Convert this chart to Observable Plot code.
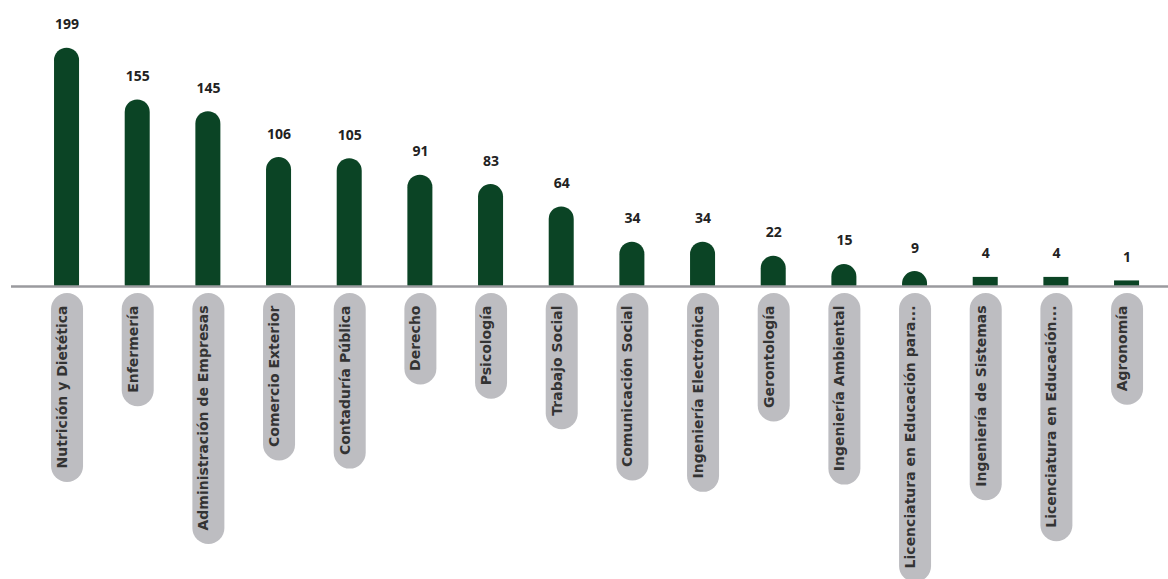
<!DOCTYPE html>
<html><head><meta charset="utf-8">
<script src="https://cdn.jsdelivr.net/npm/d3@7"></script>
<script src="https://cdn.jsdelivr.net/npm/@observablehq/plot@0.6"></script>
<style>html,body{margin:0;padding:0;background:#fff;} #chart svg{display:block}</style>
</head><body><div id="chart"></div>
<script>
const categories = ["Nutrición y Dietética","Enfermería","Administración de Empresas","Comercio Exterior","Contaduría Pública","Derecho","Psicología","Trabajo Social","Comunicación Social","Ingeniería Electrónica","Gerontología","Ingeniería Ambiental","Licenciatura en Educación para...","Ingeniería de Sistemas","Licenciatura en Educación...","Agronomía"];
const values = [199,155,145,106,105,91,83,64,34,34,22,15,9,4,4,1];

const FONT = "'Open Sans', sans-serif";
const LABEL_FONT = "'DejaVu Sans', sans-serif";
const LABEL_SIZE = 14;
const W = 1168, H = 579, baseY = 286, zeroY = 281.6, topY = 47.7;
const maxV = d3.max(values);
const pxPerUnit = (zeroY - topY) / maxV;
const toVal = p => (zeroY - p) / pxPerUnit;
const ctx = document.createElement("canvas").getContext("2d");
ctx.font = `bold ${LABEL_SIZE}px ${LABEL_FONT}`;
const data = categories.map((name, i) => {
  const L = ctx.measureText(name).width;
  return {name, value: values[i], p1: toVal(309), p2: toVal(303 + L)};
});

const chart = Plot.plot({
  width: W, height: H,
  marginTop: 0, marginLeft: 11, marginRight: 0, marginBottom: H - baseY,
  style: {fontFamily: FONT, background: "#fff"},
  x: {domain: categories, range: [18.7, 1174.4], paddingInner: 0.646, paddingOuter: 0.5, round: false, axis: null},
  y: {domain: [0, maxV], range: [zeroY, topY], axis: null},
  marks: [
    Plot.ruleX(data, {x: "name", y1: "p1", y2: "p2", stroke: "#bdbdc1", strokeWidth: 32, strokeLinecap: "round"}),
    Plot.text(data, {x: "name", frameAnchor: "bottom", dy: 19, text: "name", rotate: -90, textAnchor: "end",
      fill: "#333", fontSize: LABEL_SIZE, fontWeight: "bold", fontFamily: LABEL_FONT}),
    Plot.barY(data.filter(d => d.value >= 9), {x: "name", y: "value", fill: "#0b4425", rx: 12.5, insetBottom: -15, clip: true}),
    Plot.barY(data.filter(d => d.value < 9), {x: "name", y: "value", fill: "#0b4425", insetBottom: -15, clip: true}),
    Plot.ruleY([0], {stroke: "#9a9a9e", strokeWidth: 2.3, dy: 4.4}),
    Plot.text(data, {x: "name", y: "value", text: d => String(d.value), dy: -19, lineAnchor: "bottom",
      fontSize: 14, fontWeight: 700, fill: "#222", fontFamily: FONT})
  ]
});
document.getElementById("chart").append(chart);
</script>
</body></html>
